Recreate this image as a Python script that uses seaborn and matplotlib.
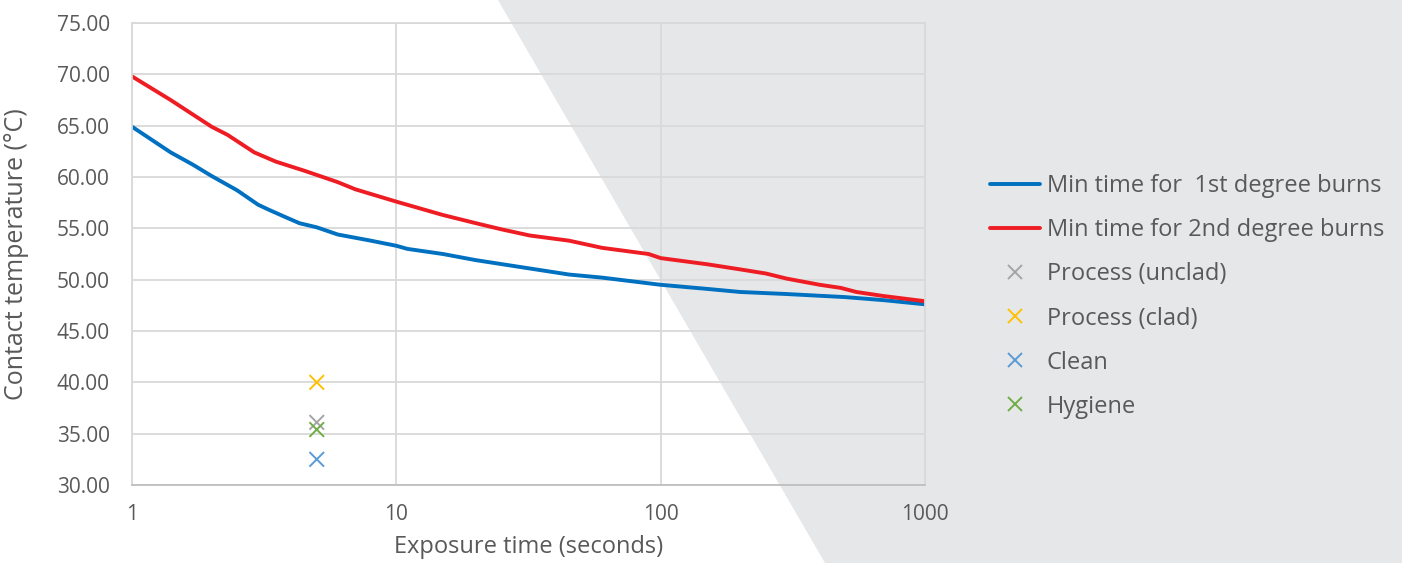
import matplotlib
matplotlib.use("Agg")
import matplotlib.pyplot as plt
from matplotlib.patches import Polygon
from matplotlib.lines import Line2D
import seaborn as sns
import pandas as pd

# burn threshold curves
t_first = [1, 1.4, 1.7, 2, 2.5, 3, 3.3, 3.8, 4.3, 5, 6, 8, 10, 11, 15, 20, 30, 45, 60, 100, 150, 200, 300, 500, 700, 1000]
temp_first = [64.9, 62.4, 61.2, 60.1, 58.7, 57.3, 56.8, 56.1, 55.5, 55.1, 54.4, 53.8, 53.3, 53.0, 52.5, 51.9, 51.2, 50.5, 50.2, 49.5, 49.1, 48.8, 48.6, 48.3, 48.0, 47.6]
t_second = [1, 1.4, 2, 2.3, 2.9, 3.5, 4.5, 5, 6, 7, 10, 15, 20, 25, 32, 45, 60, 90, 100, 150, 200, 250, 300, 400, 480, 550, 700, 1000]
temp_second = [69.8, 67.5, 64.9, 64.1, 62.4, 61.5, 60.6, 60.2, 59.5, 58.8, 57.6, 56.3, 55.5, 54.9, 54.3, 53.8, 53.1, 52.5, 52.1, 51.5, 51.0, 50.6, 50.1, 49.5, 49.2, 48.8, 48.4, 47.9]

# measured points
point_names = ["Process (unclad)", "Process (clad)", "Clean", "Hygiene"]
point_time = [5, 5, 5, 5]
point_temp = [36.1, 40.0, 32.5, 35.4]

line_names = ["Min time for  1st degree burns", "Min time for 2nd degree burns"]
line_colors = ["#0070C0", "#EE1D23"]
point_colors = ["#A5A5A5", "#FFC000", "#5B9BD5", "#70AD47"]

lines_df = pd.concat([
    pd.DataFrame({"time": t_first, "temp": temp_first, "series": line_names[0]}),
    pd.DataFrame({"time": t_second, "temp": temp_second, "series": line_names[1]}),
])
points_df = pd.DataFrame({"time": point_time, "temp": point_temp, "series": point_names})

sns.set_style("white")
plt.rcParams["font.family"] = ["Open Sans", "DejaVu Sans"]
txt = "#595959"

W, H = 1402, 563
fig = plt.figure(figsize=(W / 100, H / 100), dpi=100)
ax = fig.add_axes([132 / W, 1 - 485 / H, (925 - 132) / W, (485 - 23) / H])
ax.set_facecolor("none")

# grey wedge in the background
bg = Polygon([(498 / W, 1), (825 / W, 0), (1, 0), (1, 1)], closed=True,
             transform=fig.transFigure, facecolor="#E6E7E9", edgecolor="none", zorder=-1)
fig.patches.append(bg)

sns.lineplot(data=lines_df, x="time", y="temp", hue="series", palette=line_colors,
             linewidth=2.8, ax=ax, legend=False, sort=False)
sns.scatterplot(data=points_df, x="time", y="temp", hue="series", palette=point_colors,
                marker="x", s=110, linewidth=1.4, ax=ax, legend=False, zorder=3)

ax.set_xscale("log")
ax.set_xlim(1, 1000)
ax.set_ylim(30, 75)
ax.set_xticks([1, 10, 100, 1000])
ax.set_xticklabels(["1", "10", "100", "1000"])
ax.minorticks_off()
ax.set_yticks(range(30, 80, 5))
ax.set_yticklabels([f"{v:.2f}" for v in range(30, 80, 5)])
ax.grid(True, color="#D9D9D9", linewidth=1.3)
for s in ax.spines.values():
    s.set_color("#D9D9D9")
    s.set_linewidth(1.3)
ax.spines["bottom"].set_color("#BFBFBF")
ax.tick_params(length=0, labelsize=15, labelcolor=txt)
ax.tick_params(axis="y", pad=16)
ax.tick_params(axis="x", pad=14)
ax.set_xlabel("Exposure time (seconds)", fontsize=17, color=txt, labelpad=7)
ax.set_ylabel("Contact temperature (°C)", fontsize=18, color=txt, labelpad=20)

handles = [Line2D([], [], color=c, lw=2.8) for c in line_colors]
handles += [Line2D([], [], color=c, lw=0, marker="x", markersize=10, markeredgewidth=1.4) for c in point_colors]
fig.legend(handles, line_names + point_names, loc="center left",
           bbox_to_anchor=(969 / W, 1 - 296.5 / H), frameon=False,
           fontsize=17, labelcolor=txt, handlelength=2.1, handletextpad=0.3,
           labelspacing=0.85)

fig.savefig("out.png", dpi=100)
